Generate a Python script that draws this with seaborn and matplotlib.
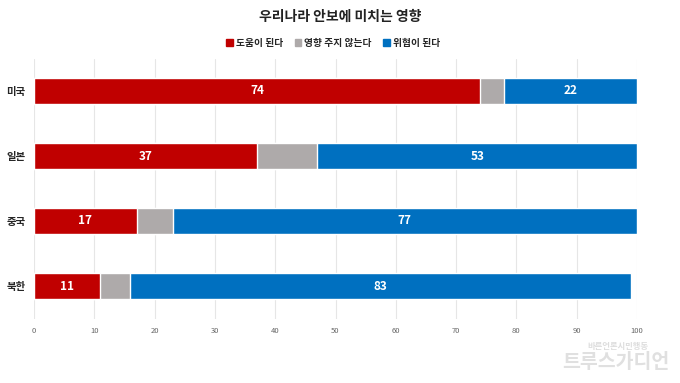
import numpy as np
import pandas as pd
import matplotlib
matplotlib.use('Agg')
import matplotlib.pyplot as plt
import seaborn as sns

# Data
countries = ['미국', '일본', '중국', '북한']
helpful = [74, 37, 17, 11]
no_effect = [4, 10, 6, 5]
threat = [22, 53, 77, 83]
series_names = ['도움이 된다', '영향 주지 않는다', '위협이 된다']
colors = ['#C00000', '#AEAAAA', '#0070C0']

sns.set_theme(style='white')
plt.rcParams['font.family'] = ['Noto Sans CJK KR', 'DejaVu Sans']

df = pd.DataFrame({'country': countries, 'helpful': helpful,
                   'no_effect': no_effect, 'threat': threat})
df['c1'] = df['helpful']
df['c2'] = df['helpful'] + df['no_effect']
df['c3'] = df['c2'] + df['threat']

fig = plt.figure(figsize=(6.8, 3.83), dpi=100)
ax = fig.add_axes([34 / 680, 64.5 / 383, 603 / 680, 260 / 383])

# stacked: draw cumulative totals back to front
for col, color in zip(['c3', 'c2', 'c1'], colors[::-1]):
    sns.barplot(data=df, x=col, y='country', orient='h', color=color,
                width=0.4, saturation=1, ax=ax, zorder=3)

# segment labels
for i, row in df.iterrows():
    ax.text(row['helpful'] / 2, i, str(row['helpful']), ha='center', va='center',
            color='white', fontsize=8.5, fontweight='bold', zorder=5)
    ax.text(row['c2'] + row['threat'] / 2, i, str(row['threat']), ha='center', va='center',
            color='white', fontsize=8.5, fontweight='bold', zorder=5)

ax.set_xlim(0, 100)
ax.set_ylim(3.5, -0.5)
ax.set_xticks(np.arange(0, 101, 10))
ax.tick_params(axis='x', labelsize=5.5, labelcolor='#666666', length=0, pad=6)
ax.tick_params(axis='y', labelsize=7.5, length=0, pad=6)
for lab in ax.get_yticklabels():
    lab.set_fontweight('bold')
ax.set_xlabel('')
ax.set_ylabel('')
ax.grid(axis='x', color='#E6E6E6', linewidth=0.8, zorder=0)
for s in ax.spines.values():
    s.set_visible(False)

# title + legend
fig.text(0.5, 1 - 17 / 383, '우리나라 안보에 미치는 영향', ha='center', va='center',
         fontsize=10, fontweight='bold', color='#222222')
handles = [plt.Rectangle((0, 0), 1, 1, color=c) for c in colors]
fig.legend(handles, series_names, loc='center', bbox_to_anchor=(0.49, 1 - 43 / 383),
           ncol=3, frameon=False, handlelength=0.7, handleheight=0.7,
           handletextpad=0.3, columnspacing=1.2,
           prop={'weight': 'bold', 'size': 7})

# watermark
fig.text(0.953, 1 - 346 / 383, '바른언론시민행동', ha='right', va='center',
         fontsize=6, color='#DDDDDD', fontweight='bold')
fig.text(0.985, 1 - 362 / 383, '트루스가디언', ha='right', va='center',
         fontsize=14, color='#E0E0E0', fontweight='bold')

fig.savefig('out.png', dpi=100)
